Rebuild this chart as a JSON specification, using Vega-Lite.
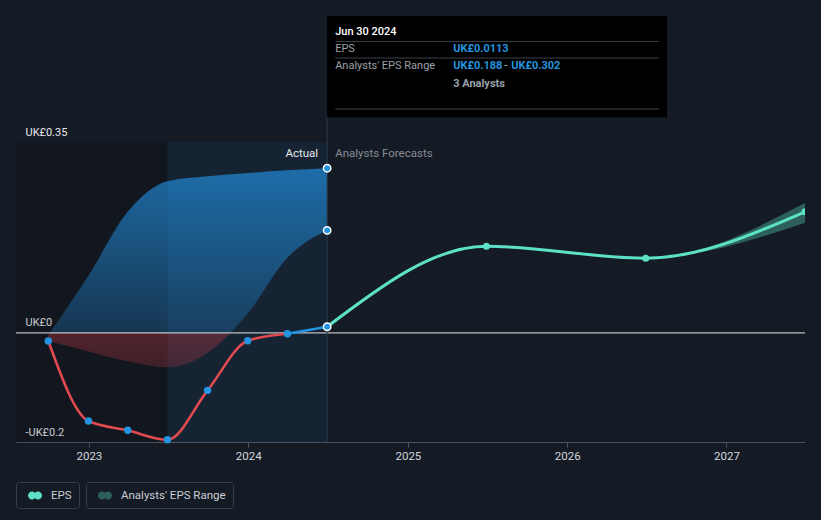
{
  "$schema": "https://vega.github.io/schema/vega-lite/v6.json",
  "width": 789,
  "height": 300,
  "autosize": {"type": "none"},
  "padding": {"left": 16, "top": 142, "right": 16, "bottom": 78},
  "background": "#151b25",
  "config": {
    "view": {"stroke": null},
    "font": "Roboto",
    "axisX": {"domainColor": "#4b515b", "tickColor": "#4b515b", "tickSize": 5, "labelColor": "#d3d7de", "labelFontSize": 11.5, "labelFont": "Roboto", "grid": false, "labelPadding": 3, "title": null},
    "axisY": {"domain": false, "ticks": false, "gridColor": "#2d333d", "labelColor": "#e6e8eb", "labelFontSize": 11, "labelFont": "Roboto", "labelAlign": "left", "labelBaseline": "alphabetic", "labelOffset": -7, "labelPadding": -9, "title": null}
  },
  "datasets": {
    "eps": [
      {"date": "2022-09-30", "eps": -0.0149},
      {"date": "2022-12-31", "eps": -0.1615},
      {"date": "2023-03-31", "eps": -0.1786},
      {"date": "2023-06-30", "eps": -0.1958},
      {"date": "2023-09-30", "eps": -0.1053},
      {"date": "2023-12-31", "eps": -0.0143},
      {"date": "2024-03-31", "eps": -0.0014},
      {"date": "2024-06-30", "eps": 0.0113}
    ],
    "range": [
      {"date": "2022-09-30", "low": -0.0149, "high": -0.004},
      {"date": "2022-12-31", "low": -0.034, "high": 0.105},
      {"date": "2023-03-31", "low": -0.052, "high": 0.222},
      {"date": "2023-06-30", "low": -0.063, "high": 0.278},
      {"date": "2023-09-30", "low": -0.037, "high": 0.287},
      {"date": "2023-12-31", "low": 0.036, "high": 0.293},
      {"date": "2024-03-31", "low": 0.138, "high": 0.298},
      {"date": "2024-06-30", "low": 0.188, "high": 0.302}
    ],
    "forecast": [
      {"date": "2024-06-30", "eps": 0.0113, "low": 0.0113, "high": 0.0113},
      {"date": "2025-06-30", "eps": 0.159, "low": 0.159, "high": 0.159},
      {"date": "2026-06-30", "eps": 0.137, "low": 0.137, "high": 0.137},
      {"date": "2027-06-30", "eps": 0.222, "low": 0.202, "high": 0.238}
    ]
  },
  "layer": [
    {
      "data": {"values": [{}]},
      "mark": {"type": "rect", "fill": "#000000", "opacity": 0.14},
      "encoding": {
        "x": {"datum": {"year": 2022, "month": 7, "date": 18, "utc": true}, "type": "temporal",
          "scale": {"type": "utc", "domain": [{"year": 2022, "month": 7, "date": 18, "utc": true}, {"year": 2027, "month": 6, "date": 30, "utc": true}]},
          "axis": {"title": null, "format": "%Y", "values": [{"year": 2023, "month": 1, "date": 1, "utc": true}, {"year": 2024, "month": 1, "date": 1, "utc": true}, {"year": 2025, "month": 1, "date": 1, "utc": true}, {"year": 2026, "month": 1, "date": 1, "utc": true}, {"year": 2027, "month": 1, "date": 1, "utc": true}]}},
        "x2": {"datum": {"year": 2023, "month": 6, "date": 30, "utc": true}},
        "y": {"datum": -0.2, "type": "quantitative",
          "scale": {"domain": [-0.2, 0.35], "nice": false, "zero": false},
          "axis": {"title": null, "values": [-0.2, 0, 0.2, 0.35], "labelExpr": "datum.value === 0.35 ? 'UK£0.35' : datum.value === 0 ? 'UK£0' : datum.value === -0.2 ? '-UK£0.2' : ''"}},
        "y2": {"datum": 0.35}
      }
    },
    {
      "data": {"values": [{}]},
      "mark": {"type": "rect", "fill": "#2394df", "opacity": 0.07},
      "encoding": {
        "x": {"datum": {"year": 2023, "month": 6, "date": 30, "utc": true}, "type": "temporal"},
        "x2": {"datum": {"year": 2024, "month": 6, "date": 30, "utc": true}},
        "y": {"datum": -0.2, "type": "quantitative"},
        "y2": {"datum": 0.35}
      }
    },
    {
      "data": {"name": "range"},
      "mark": {"type": "area", "interpolate": "monotone", "opacity": 1,
        "fill": {"gradient": "linear", "x1": 0, "y1": 0, "x2": 0, "y2": 1, "stops": [
          {"offset": 0, "color": "rgba(33,137,214,0.72)"},
          {"offset": 0.827, "color": "rgba(33,137,214,0.28)"},
          {"offset": 0.827, "color": "rgba(205,60,70,0.34)"},
          {"offset": 1, "color": "rgba(205,60,70,0.24)"}]}},
      "encoding": {
        "x": {"field": "date", "type": "temporal"},
        "y": {"field": "high", "type": "quantitative"},
        "y2": {"field": "low"}
      }
    },
    {
      "data": {"name": "forecast"},
      "mark": {"type": "area", "interpolate": "monotone", "opacity": 0.35, "clip": true},
      "encoding": {
        "x": {"field": "date", "type": "temporal"},
        "y": {"field": "high", "type": "quantitative"},
        "y2": {"field": "low"},
        "fill": {"datum": "Analysts' EPS Range", "type": "nominal",
          "scale": {"range": ["#5ce1c6"]},
          "legend": {"orient": "none", "legendX": 70, "legendY": 340, "title": null, "padding": 6.5, "strokeColor": "#3a404b", "cornerRadius": 3,
            "symbolType": "M-1,0A0.5714,0.5714 0 1,1 0.1429,0A0.5714,0.5714 0 1,1 -1,0ZM-0.1429,0A0.5714,0.5714 0 1,1 1,0A0.5714,0.5714 0 1,1 -0.1429,0Z",
            "symbolSize": 196, "symbolStrokeWidth": 0, "symbolOffset": 5.5, "labelOffset": 9, "labelColor": "#c9cdd4", "labelFontSize": 11.5, "labelFont": "Roboto",
            "encode": {"symbols": {"update": {"opacity": {"value": 1}, "fillOpacity": {"value": 1}, "stroke": {"value": "transparent"},
              "fill": {"value": {"gradient": "linear", "x1": 0, "y1": 0, "x2": 1, "y2": 0, "stops": [
                {"offset": 0, "color": "#1e5a8c"}, {"offset": 0.43, "color": "#1e5a8c"}, {"offset": 0.43, "color": "#3c8782"}, {"offset": 1, "color": "#3c8782"}]}}}}}}
        }
      }
    },
    {
      "data": {"values": [{}]},
      "mark": {"type": "rule", "stroke": "#e6e6e6", "strokeWidth": 1},
      "encoding": {"y": {"datum": 0, "type": "quantitative"}}
    },
    {
      "data": {"values": [{}]},
      "mark": {"type": "rule", "stroke": "#2a3b4d", "strokeWidth": 1},
      "encoding": {
        "x": {"datum": {"year": 2024, "month": 6, "date": 30, "utc": true}, "type": "temporal"},
        "y": {"datum": -0.2, "type": "quantitative"},
        "y2": {"datum": 0.4}
      }
    },
    {
      "data": {"name": "eps"},
      "transform": [{"filter": "time(datum.date) <= utc(2024, 2, 31)"}],
      "mark": {"type": "line", "interpolate": "monotone", "stroke": "#e04a50", "strokeWidth": 2.6},
      "encoding": {
        "x": {"field": "date", "type": "temporal"},
        "y": {"field": "eps", "type": "quantitative"}
      }
    },
    {
      "data": {"name": "eps"},
      "transform": [{"filter": "time(datum.date) >= utc(2024, 2, 31)"}],
      "mark": {"type": "line", "interpolate": "monotone", "stroke": "#2394df", "strokeWidth": 2.6},
      "encoding": {
        "x": {"field": "date", "type": "temporal"},
        "y": {"field": "eps", "type": "quantitative"}
      }
    },
    {
      "data": {"name": "forecast"},
      "mark": {"type": "line", "interpolate": "monotone", "stroke": "#5ce1c6", "strokeWidth": 3, "clip": true},
      "encoding": {
        "x": {"field": "date", "type": "temporal"},
        "y": {"field": "eps", "type": "quantitative"}
      }
    },
    {
      "data": {"name": "eps"},
      "transform": [{"filter": "time(datum.date) < utc(2024, 5, 30)"}],
      "mark": {"type": "point", "filled": true, "fill": "#2394df", "size": 55, "opacity": 1},
      "encoding": {
        "x": {"field": "date", "type": "temporal"},
        "y": {"field": "eps", "type": "quantitative"}
      }
    },
    {
      "data": {"name": "forecast"},
      "transform": [{"filter": "time(datum.date) > utc(2024, 5, 30)"}],
      "mark": {"type": "point", "filled": true, "size": 50, "opacity": 1, "clip": true},
      "encoding": {
        "x": {"field": "date", "type": "temporal"},
        "y": {"field": "eps", "type": "quantitative"},
        "color": {"datum": "EPS", "type": "nominal",
          "scale": {"range": ["#5ce1c6"]},
          "legend": {"orient": "none", "legendX": 0, "legendY": 340, "title": null, "padding": 6.5, "strokeColor": "#3a404b", "cornerRadius": 3,
            "symbolType": "M-1,0A0.5714,0.5714 0 1,1 0.1429,0A0.5714,0.5714 0 1,1 -1,0ZM-0.1429,0A0.5714,0.5714 0 1,1 1,0A0.5714,0.5714 0 1,1 -0.1429,0Z",
            "symbolSize": 196, "symbolStrokeWidth": 0, "symbolOffset": 5.5, "labelOffset": 9, "labelColor": "#c9cdd4", "labelFontSize": 11.5, "labelFont": "Roboto",
            "encode": {"symbols": {"update": {"opacity": {"value": 1}, "fillOpacity": {"value": 1}, "stroke": {"value": "transparent"},
              "fill": {"value": {"gradient": "linear", "x1": 0, "y1": 0, "x2": 1, "y2": 0, "stops": [
                {"offset": 0, "color": "#2394df"}, {"offset": 0.43, "color": "#2394df"}, {"offset": 0.43, "color": "#5ce1c6"}, {"offset": 1, "color": "#5ce1c6"}]}}}}}}
        }
      }
    },
    {
      "data": {"name": "range"},
      "transform": [{"filter": "time(datum.date) === utc(2024, 5, 30)"}, {"fold": ["low", "high"], "as": ["bound", "val"]}],
      "mark": {"type": "point", "filled": true, "fill": "#2394df", "stroke": "#ffffff", "strokeWidth": 1.5, "size": 55, "opacity": 1},
      "encoding": {
        "x": {"field": "date", "type": "temporal"},
        "y": {"field": "val", "type": "quantitative"}
      }
    },
    {
      "data": {"name": "eps"},
      "transform": [{"filter": "time(datum.date) === utc(2024, 5, 30)"}],
      "mark": {"type": "point", "filled": true, "fill": "#2394df", "stroke": "#ffffff", "strokeWidth": 1.5, "size": 55, "opacity": 1},
      "encoding": {
        "x": {"field": "date", "type": "temporal"},
        "y": {"field": "eps", "type": "quantitative"}
      }
    },
    {
      "data": {"values": [{}]},
      "mark": {"type": "text", "text": "Actual", "align": "right", "baseline": "middle", "dx": -9, "fill": "#e8eaed", "fontSize": 11.5, "font": "Roboto"},
      "encoding": {
        "x": {"datum": {"year": 2024, "month": 6, "date": 30, "utc": true}, "type": "temporal"},
        "y": {"datum": 0.328, "type": "quantitative"}
      }
    },
    {
      "data": {"values": [{}]},
      "mark": {"type": "text", "text": "Analysts Forecasts", "align": "left", "baseline": "middle", "dx": 8, "fill": "#858b95", "fontSize": 11.5, "font": "Roboto"},
      "encoding": {
        "x": {"datum": {"year": 2024, "month": 6, "date": 30, "utc": true}, "type": "temporal"},
        "y": {"datum": 0.328, "type": "quantitative"}
      }
    },
    {
      "data": {"values": [{}]},
      "mark": {"type": "rect", "fill": "#000000", "clip": false},
      "encoding": {
        "x": {"datum": {"year": 2024, "month": 6, "date": 30, "utc": true}, "type": "temporal"},
        "x2": {"datum": {"year": 2026, "month": 8, "date": 18, "utc": true}},
        "y": {"datum": 0.581, "type": "quantitative"},
        "y2": {"datum": 0.3949}
      }
    },
    {
      "data": {"values": [{"y": 0.5343}, {"y": 0.504}, {"y": 0.4105}]},
      "mark": {"type": "rule", "stroke": "#3b4048", "strokeWidth": 1, "xOffset": 8, "x2Offset": -8},
      "encoding": {
        "x": {"datum": {"year": 2024, "month": 6, "date": 30, "utc": true}, "type": "temporal"},
        "x2": {"datum": {"year": 2026, "month": 8, "date": 18, "utc": true}},
        "y": {"field": "y", "type": "quantitative"}
      }
    },
    {
      "data": {"values": [{}]},
      "mark": {"type": "text", "text": "Jun 30 2024", "align": "left", "baseline": "middle", "dx": 8, "fill": "#ffffff", "fontSize": 11, "fontWeight": 500, "font": "Roboto"},
      "encoding": {
        "x": {"datum": {"year": 2024, "month": 6, "date": 30, "utc": true}, "type": "temporal"},
        "y": {"datum": 0.552, "type": "quantitative"}
      }
    },
    {
      "data": {"values": [{}]},
      "mark": {"type": "text", "text": "EPS", "align": "left", "baseline": "middle", "dx": 8, "fill": "#9ba1aa", "fontSize": 11, "font": "Roboto"},
      "encoding": {
        "x": {"datum": {"year": 2024, "month": 6, "date": 30, "utc": true}, "type": "temporal"},
        "y": {"datum": 0.5205, "type": "quantitative"}
      }
    },
    {
      "data": {"values": [{}]},
      "mark": {"type": "text", "text": "UK£0.0113", "align": "left", "baseline": "middle", "dx": 126, "fill": "#2394df", "fontSize": 11, "fontWeight": "bold", "font": "Roboto"},
      "encoding": {
        "x": {"datum": {"year": 2024, "month": 6, "date": 30, "utc": true}, "type": "temporal"},
        "y": {"datum": 0.5205, "type": "quantitative"}
      }
    },
    {
      "data": {"values": [{}]},
      "mark": {"type": "text", "text": "Analysts' EPS Range", "align": "left", "baseline": "middle", "dx": 8, "fill": "#9ba1aa", "fontSize": 11, "font": "Roboto"},
      "encoding": {
        "x": {"datum": {"year": 2024, "month": 6, "date": 30, "utc": true}, "type": "temporal"},
        "y": {"datum": 0.4893, "type": "quantitative"}
      }
    },
    {
      "data": {"values": [{}]},
      "mark": {"type": "text", "text": "UK£0.188", "align": "left", "baseline": "middle", "dx": 126, "fill": "#2394df", "fontSize": 11, "fontWeight": "bold", "font": "Roboto"},
      "encoding": {
        "x": {"datum": {"year": 2024, "month": 6, "date": 30, "utc": true}, "type": "temporal"},
        "y": {"datum": 0.4893, "type": "quantitative"}
      }
    },
    {
      "data": {"values": [{}]},
      "mark": {"type": "text", "text": "-", "align": "left", "baseline": "middle", "dx": 177, "fill": "#c9cdd4", "fontSize": 11, "font": "Roboto"},
      "encoding": {
        "x": {"datum": {"year": 2024, "month": 6, "date": 30, "utc": true}, "type": "temporal"},
        "y": {"datum": 0.4893, "type": "quantitative"}
      }
    },
    {
      "data": {"values": [{}]},
      "mark": {"type": "text", "text": "UK£0.302", "align": "left", "baseline": "middle", "dx": 184, "fill": "#2394df", "fontSize": 11, "fontWeight": "bold", "font": "Roboto"},
      "encoding": {
        "x": {"datum": {"year": 2024, "month": 6, "date": 30, "utc": true}, "type": "temporal"},
        "y": {"datum": 0.4893, "type": "quantitative"}
      }
    },
    {
      "data": {"values": [{}]},
      "mark": {"type": "text", "text": "3 Analysts", "align": "left", "baseline": "middle", "dx": 126, "fill": "#9ba1aa", "fontSize": 11, "fontWeight": "bold", "font": "Roboto"},
      "encoding": {
        "x": {"datum": {"year": 2024, "month": 6, "date": 30, "utc": true}, "type": "temporal"},
        "y": {"datum": 0.4565, "type": "quantitative"}
      }
    }
  ]
}
